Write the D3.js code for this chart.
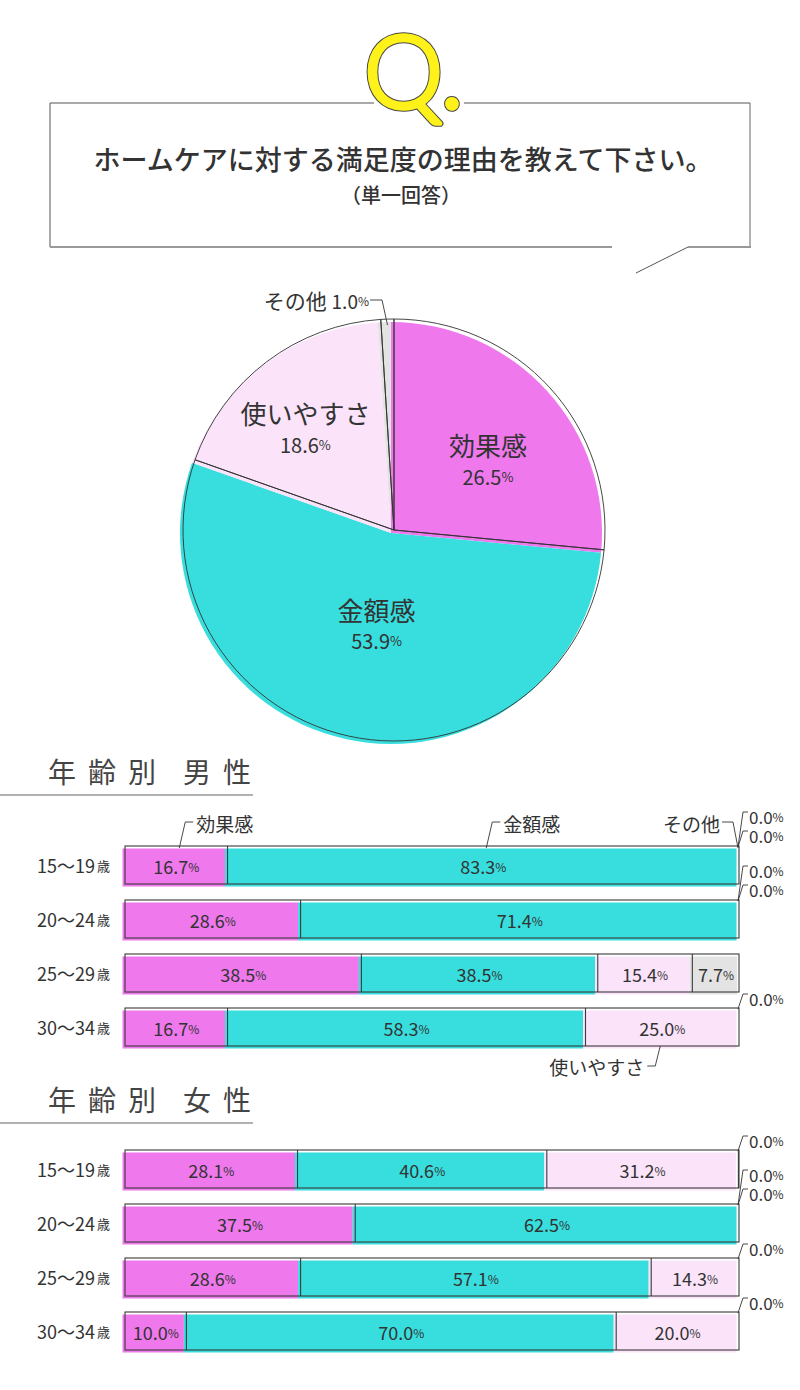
<!DOCTYPE html>
<html>
<head>
<meta charset="utf-8">
<script src="https://cdn.jsdelivr.net/npm/d3@7"></script>
<style>
  body { margin: 0; background: #fff; }
  svg { display: block; }
  text { font-family: 'Noto Sans CJK JP', 'Noto Sans', sans-serif; fill: #333; }
</style>
</head>
<body>
<svg width="800" height="1390"></svg>
<script>
// data
var categories = ['効果感', '金額感', '使いやすさ', 'その他'];
var pieValues = [26.5, 53.9, 18.6, 1.0];
var ages = ['15〜19', '20〜24', '25〜29', '30〜34'];
var maleValues = [
  [16.7, 83.3, 0.0, 0.0],
  [28.6, 71.4, 0.0, 0.0],
  [38.5, 38.5, 15.4, 7.7],
  [16.7, 58.3, 25.0, 0.0]
];
var femaleValues = [
  [28.1, 40.6, 31.2, 0.0],
  [37.5, 62.5, 0.0, 0.0],
  [28.6, 57.1, 14.3, 0.0],
  [10.0, 70.0, 20.0, 0.0]
];
var colors = ['#EE78EC', '#38DEDE', '#FBE3FA', '#E3E3E3'];

var svg = d3.select('svg');
var ink = '#333';

// ---- question box ----
var box = svg.append('g');
box.append('line').attr('x1', 50).attr('x2', 374).attr('y1', 103).attr('y2', 103).attr('stroke', '#555');
box.append('line').attr('x1', 464).attr('x2', 750).attr('y1', 103).attr('y2', 103).attr('stroke', '#555');
box.append('line').attr('x1', 50).attr('x2', 50).attr('y1', 103).attr('y2', 247).attr('stroke', '#555');
box.append('line').attr('x1', 750).attr('x2', 750).attr('y1', 103).attr('y2', 247).attr('stroke', '#666');
box.append('line').attr('x1', 50).attr('x2', 612).attr('y1', 247).attr('y2', 247).attr('stroke', '#999').attr('stroke-width', 2);
box.append('line').attr('x1', 688).attr('x2', 751).attr('y1', 247).attr('y2', 247).attr('stroke', '#999').attr('stroke-width', 2);
box.append('line').attr('x1', 688).attr('x2', 636).attr('y1', 247).attr('y2', 273).attr('stroke', '#555');

// the "Q." mark: dark rim under a yellow stroke
[['#444', 6.5], ['#FFF21A', 4.5]].forEach(function(p) {
  box.append('text').attr('x', 364).attr('y', 108)
    .style('font-family', 'Lato, sans-serif').style('font-size', '100px').style('font-weight', 300)
    .style('fill', '#FFF21A').style('stroke', p[0]).style('stroke-width', p[1])
    .style('stroke-linejoin', 'round')
    .text('Q.');
});

box.append('text').attr('x', 403).attr('y', 158).attr('text-anchor', 'middle')
  .attr('dominant-baseline', 'central')
  .style('font-size', '27px').style('font-weight', 500)
  .text('ホームケアに対する満足度の理由を教えて下さい。');
box.append('text').attr('x', 401).attr('y', 194).attr('text-anchor', 'middle')
  .attr('dominant-baseline', 'central')
  .style('font-size', '20px').style('font-weight', 500)
  .text('（単一回答）');

// ---- pie ----
var cx = 394, cy = 530, R = 211;
var pie = d3.pie().sort(null).value(function(d) { return d; });
var arcs = pie(pieValues);
var arc = d3.arc().innerRadius(0).outerRadius(R);
var gp = svg.append('g').attr('transform', 'translate(' + cx + ',' + cy + ')');

gp.selectAll('path.fill').data(arcs).enter().append('path')
  .attr('class', 'fill')
  .attr('transform', 'translate(-3,3)')
  .attr('d', arc)
  .attr('fill', function(d, i) { return colors[i]; });
gp.selectAll('path.edge').data(arcs).enter().append('path')
  .attr('class', 'edge')
  .attr('d', arc)
  .attr('fill', 'none')
  .attr('stroke', ink)
  .attr('stroke-width', 0.9);

// label distance from centre, per slice
var labelRadius = [127, 81, 147];
arcs.slice(0, 3).forEach(function(d, i) {
  var a = (d.startAngle + d.endAngle) / 2;
  var x = Math.sin(a) * labelRadius[i], y = -Math.cos(a) * labelRadius[i];
  gp.append('text').attr('x', x).attr('y', y).attr('text-anchor', 'middle')
    .attr('dominant-baseline', 'central').style('font-size', '26px')
    .text(categories[i]);
  var t = gp.append('text').attr('x', x).attr('y', y + 31).attr('text-anchor', 'middle')
    .attr('dominant-baseline', 'central').style('font-size', '20px');
  t.append('tspan').text(d.data.toFixed(1));
  t.append('tspan').style('font-size', '13px').text('%');
});

// small slice callout
(function() {
  var d = arcs[3];
  var a = (d.startAngle + d.endAngle) / 2;
  var px = Math.sin(a) * (R - 6), py = -Math.cos(a) * (R - 6);
  gp.append('path')
    .attr('d', 'M' + (370 - cx) + ',' + (300 - cy) + 'L' + (382 - cx) + ',' + (300 - cy) + 'L' + px + ',' + py)
    .attr('fill', 'none').attr('stroke', ink).attr('stroke-width', 0.9);
  var t = gp.append('text').attr('x', 369 - cx).attr('y', 300 - cy).attr('text-anchor', 'end')
    .attr('dominant-baseline', 'central');
  t.append('tspan').style('font-size', '21px').text(categories[3] + ' ');
  t.append('tspan').style('font-size', '19px').text(d.data.toFixed(1));
  t.append('tspan').style('font-size', '12px').text('%');
})();

// ---- stacked bars ----
var x = d3.scaleLinear().domain([0, 100]).range([125, 739]);

function header(yc, who) {
  svg.append('text').attr('x', 48).attr('y', yc).attr('dominant-baseline', 'central')
    .style('font-size', '28px').style('letter-spacing', '12px').style('fill', '#444').text('年齢別');
  svg.append('text').attr('x', 183).attr('y', yc).attr('dominant-baseline', 'central')
    .style('font-size', '28px').style('letter-spacing', '12px').style('fill', '#444').text(who);
  svg.append('line').attr('x1', 0).attr('x2', 253).attr('y1', yc + 24).attr('y2', yc + 24)
    .attr('stroke', '#666').attr('stroke-width', 1.2);
}

function drawGroup(values, top0) {
  var y = d3.scaleBand().domain(ages).range([top0, top0 + 200]).paddingInner(16 / 54);
  var h = y.bandwidth();
  var rows = values.map(function(v, r) {
    var acc = 0;
    return {
      age: ages[r],
      segs: v.map(function(val, i) {
        var s = { i: i, v: val, x0: acc, x1: acc + val };
        acc += val;
        return s;
      })
    };
  });

  var g = svg.append('g');
  var row = g.selectAll('g.row').data(rows).enter().append('g')
    .attr('transform', function(d) { return 'translate(0,' + y(d.age) + ')'; });

  // fills, slightly off register
  row.selectAll('rect.fill').data(function(d) { return d.segs.filter(function(s) { return s.v > 0; }); })
    .enter().append('rect')
    .attr('x', function(s) { return x(s.x0) - 2.5; })
    .attr('y', 2.5)
    .attr('width', function(s) { return x(s.x1) - x(s.x0); })
    .attr('height', h)
    .attr('fill', function(s) { return colors[s.i]; });

  // outline + dividers
  row.append('rect').attr('x', x(0)).attr('y', 0).attr('width', x(100) - x(0)).attr('height', h)
    .attr('fill', 'none').attr('stroke', '#3a3a3a').attr('stroke-width', 1.1);
  row.selectAll('line.div').data(function(d) {
      return d.segs.slice(0, -1).filter(function(s) { return s.v > 0 && s.x1 < 99.95; });
    })
    .enter().append('line')
    .attr('x1', function(s) { return x(s.x1); }).attr('x2', function(s) { return x(s.x1); })
    .attr('y1', 0).attr('y2', h).attr('stroke', '#3a3a3a').attr('stroke-width', 1.1);

  // values
  var lab = row.selectAll('text.val').data(function(d) { return d.segs.filter(function(s) { return s.v > 0; }); })
    .enter().append('text')
    .attr('x', function(s) { return (x(s.x0) + x(s.x1)) / 2; })
    .attr('y', h / 2 + 1)
    .attr('text-anchor', 'middle').attr('dominant-baseline', 'central')
    .style('font-size', '18px');
  lab.append('tspan').text(function(s) { return s.v.toFixed(1); });
  lab.append('tspan').style('font-size', '12px').text('%');

  // age labels
  var al = row.append('text').attr('x', 110).attr('y', h / 2).attr('text-anchor', 'end')
    .attr('dominant-baseline', 'central');
  al.append('tspan').style('font-size', '18px').text(function(d) { return d.age; });
  al.append('tspan').attr('dx', 2).style('font-size', '13px').text('歳');

  // zero-value callouts on the right end
  row.each(function(d) {
    var zeros = d.segs.filter(function(s) { return s.v === 0; });
    var ys = zeros.length === 2 ? [-30, -11] : [-10];
    var gr = d3.select(this);
    zeros.forEach(function(s, k) {
      var ly = ys[k], xe = x(100);
      gr.append('path')
        .attr('d', 'M' + (xe - 1) + ',1L' + (xe + 4) + ',' + (ly - 4) + 'L' + (xe + 9) + ',' + (ly - 4))
        .attr('fill', 'none').attr('stroke', ink).attr('stroke-width', 0.9);
      var t = gr.append('text').attr('x', xe + 10).attr('y', ly).attr('dominant-baseline', 'central')
        .style('font-size', '17px');
      t.append('tspan').text(s.v.toFixed(1));
      t.append('tspan').style('font-size', '12px').text('%');
    });
  });

  return { y: y, h: h, rows: rows };
}

header(771, '男性');
var male = drawGroup(maleValues, 846);
header(1099, '女性');
drawGroup(femaleValues, 1150);

// category callouts on the male block
(function() {
  var r0 = male.rows[0], top = male.y(r0.age);
  [0, 1].forEach(function(i) {
    var s = r0.segs[i];
    var ax = (x(s.x0) + x(s.x1)) / 2 + 3;
    svg.append('path')
      .attr('d', 'M' + ax + ',' + (top + 2) + 'L' + (ax + 6) + ',' + (top - 24) + 'L' + (ax + 14) + ',' + (top - 24))
      .attr('fill', 'none').attr('stroke', ink).attr('stroke-width', 0.9);
    svg.append('text').attr('x', ax + 17).attr('y', top - 23).attr('dominant-baseline', 'central')
      .style('font-size', '19px').text(categories[i]);
  });
  var xe = x(r0.segs[3].x0);
  svg.append('path')
    .attr('d', 'M' + (xe - 1) + ',' + (top + 2) + 'L' + (xe - 6) + ',' + (top - 24) + 'L' + (xe - 17) + ',' + (top - 24))
    .attr('fill', 'none').attr('stroke', ink).attr('stroke-width', 0.9);
  svg.append('text').attr('x', xe - 19).attr('y', top - 23).attr('text-anchor', 'end')
    .attr('dominant-baseline', 'central').style('font-size', '19px').text(categories[3]);

  var r3 = male.rows[3], bot = male.y(r3.age) + male.h;
  var s2 = r3.segs[2];
  var bx = (x(s2.x0) + x(s2.x1)) / 2 - 2;
  svg.append('path')
    .attr('d', 'M' + bx + ',' + bot + 'L' + (bx - 5) + ',' + (bot + 20) + 'L' + (bx - 13) + ',' + (bot + 20))
    .attr('fill', 'none').attr('stroke', ink).attr('stroke-width', 0.9);
  svg.append('text').attr('x', bx - 16).attr('y', bot + 20).attr('text-anchor', 'end')
    .attr('dominant-baseline', 'central').style('font-size', '19px').text(categories[2]);
})();
</script>
</body>
</html>
